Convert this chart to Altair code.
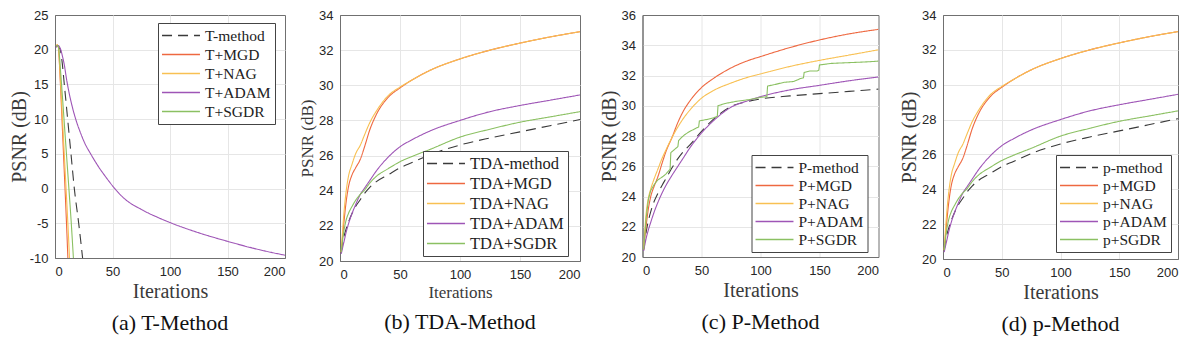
import altair as alt
import pandas as pd

# ---------------- (a) T-Method ----------------
a_method_x = [1, 2, 3, 4.6, 6, 8.1, 11, 13.9, 16.8, 20.6, 24]
a_method_y = [20.5, 20.6, 20.4, 20.0, 18.5, 15.0, 10.0, 5.0, 0.0, -5.0, -10.0]
a_mgd_x = [1, 2, 3, 4, 5, 6, 7, 8, 9, 10, 11.2]
a_mgd_y = [20.5, 20.7, 20.3, 17.5, 14.0, 10.3, 6.5, 2.7, -1.1, -5.0, -10.0]
a_nag_x = [1, 2, 3, 4, 5, 6, 7, 8, 9, 10, 11, 12, 12.6]
a_nag_y = [20.5, 20.7, 20.3, 17.8, 14.8, 11.6, 8.4, 5.2, 2.0, -1.2, -4.4, -7.8, -10.0]
a_adam_x = [1, 2, 3, 4, 5, 6, 7, 8, 10, 12, 15, 18, 22, 26, 31, 38, 44, 51, 60, 75,
            90, 100, 120, 150, 175, 200]
a_adam_y = [20.3, 20.6, 20.6, 20.4, 20.0, 19.4, 18.7, 17.9, 15.8, 14.0, 11.8, 10.0, 8.1,
            6.5, 5.0, 3.1, 1.7, 0.2, -1.4, -3.0, -4.2, -4.9, -6.1, -7.6, -8.7, -9.6]
a_sgdr_x = [1, 2, 3, 4, 5, 6, 7, 8, 10, 12, 14, 16]
a_sgdr_y = [20.5, 20.6, 20.4, 18.8, 16.6, 14.3, 12.0, 9.6, 4.9, 0.2, -4.6, -10.0]
a_names = ["T-method", "T+MGD", "T+NAG", "T+ADAM", "T+SGDR"]

# ---------------- (b) TDA-Method / (d) p-Method ----------------
b_x = [1, 3, 5, 7, 10, 13, 17, 20, 25, 30, 40, 50, 60, 75, 100, 125, 150, 175, 200]
b_method_y = [20.5, 21.3, 21.8, 22.2, 22.7, 23.1, 23.5, 23.8, 24.2, 24.5, 24.9, 25.3, 25.6,
              26.05, 26.6, 27.0, 27.35, 27.7, 28.05]
b_mgd_y = [20.5, 22.0, 23.3, 24.2, 24.9, 25.3, 25.8, 26.4, 27.5, 28.3, 29.3, 29.85, 30.3,
           30.85, 31.5, 32.0, 32.4, 32.75, 33.05]
b_nag_y = [20.5, 22.5, 23.9, 24.8, 25.5, 26.1, 26.6, 27.1, 27.9, 28.5, 29.4, 29.9, 30.3,
           30.85, 31.5, 32.0, 32.4, 32.75, 33.05]
b_adam_y = [20.4, 21.0, 21.6, 22.1, 22.7, 23.2, 23.8, 24.1, 24.6, 25.1, 25.9, 26.5, 26.9,
            27.4, 28.0, 28.5, 28.85, 29.15, 29.45]
b_sgdr_y = [20.5, 21.6, 22.3, 22.7, 23.1, 23.45, 23.8, 24.0, 24.45, 24.8, 25.25, 25.65, 25.95,
            26.35, 27.05, 27.5, 27.9, 28.2, 28.5]
b_names = ["TDA-method", "TDA+MGD", "TDA+NAG", "TDA+ADAM", "TDA+SGDR"]
d_names = ["p-method", "p+MGD", "p+NAG", "p+ADAM", "p+SGDR"]

# ---------------- (c) P-Method ----------------
c_x = [1, 3, 5, 7, 10, 13, 17, 20, 25, 30, 35, 40, 50, 60, 75, 90, 100, 125, 150, 175, 200]
c_method_y = [20.5, 21.6, 22.4, 23.0, 23.7, 24.2, 24.8, 25.2, 25.9, 26.5, 27.0, 27.4, 28.3,
              29.1, 29.95, 30.3, 30.45, 30.65, 30.8, 30.95, 31.1]
c_mgd_y = [20.5, 22.0, 23.2, 24.0, 24.7, 25.3, 26.3, 27.0, 27.9, 28.9, 29.7, 30.3, 31.2,
           31.8, 32.5, 33.0, 33.25, 33.85, 34.35, 34.75, 35.05]
c_nag_y = [20.5, 22.8, 23.9, 24.5, 25.2, 25.8, 26.6, 27.1, 27.9, 28.6, 29.2, 29.7, 30.5,
           31.0, 31.5, 31.9, 32.1, 32.6, 33.0, 33.35, 33.7]
c_adam_y = [20.4, 21.2, 21.8, 22.3, 23.0, 23.6, 24.3, 24.75, 25.4, 26.0, 26.6, 27.2, 28.2,
            29.0, 29.9, 30.35, 30.6, 31.05, 31.35, 31.65, 31.9]
c_sgdr_x = [1, 3, 5, 7, 10, 13, 17, 20, 23.4, 24, 27, 30, 30.6, 33, 36, 40, 45, 47.6, 48.2,
            55, 60, 63.4, 64, 70, 80, 90, 100, 105.4, 106, 112, 120, 128, 134, 136.4, 137,
            142, 148, 149.4, 150, 160, 175, 190, 200]
c_sgdr_y = [20.5, 22.5, 23.8, 24.4, 24.8, 25.1, 25.3, 25.5, 25.8, 26.9, 27.1, 27.3, 27.7,
            27.9, 28.1, 28.3, 28.5, 28.6, 29.0, 29.1, 29.2, 29.3, 30.0, 30.15, 30.3, 30.4,
            30.55, 30.6, 31.3, 31.4, 31.55, 31.6, 31.8, 31.85, 32.2, 32.3, 32.3, 32.35, 32.7,
            32.8, 32.85, 32.9, 32.95]
c_names = ["P-method", "P+MGD", "P+NAG", "P+ADAM", "P+SGDR"]

SERIF = "Liberation Serif"
SANS = "Liberation Sans"
FRAME = "#707070"
COLORS = ["#3a3a3a", "#EE6840", "#F8C052", "#9E55B6", "#8BC062"]
DASHES = [[10, 6], [1, 0], [1, 0], [1, 0], [1, 0]]


def make_df(series):
    rows = []
    for name, xs, ys in series:
        for k, (xv, yv) in enumerate(zip(xs, ys)):
            rows.append({"Series": name, "Iteration": xv, "PSNR": yv, "k": k})
    return pd.DataFrame(rows)


def panel(series, caption, ymin, ymax, ystep, width, height, legx, legy, legfont,
          rowpad, xtitle_size, ytitle_size, ytitle_pad, step_series=None):
    names = [s[0] for s in series]
    df = make_df(series)
    legend = alt.Legend(
        orient="none", legendX=legx, legendY=legy, title=None,
        symbolType="M-1.13,0H3.93", symbolSize=225, symbolStrokeWidth=1.4,
        labelFont=SERIF, labelFontSize=legfont, labelColor="#222222", labelOffset=26,
        labelLimit=400, padding=4, rowPadding=rowpad, strokeColor="#444444",
        fillColor="white",
    )
    x = alt.X("Iteration:Q",
              scale=alt.Scale(domain=[0, 200], nice=False),
              axis=alt.Axis(values=[0, 50, 100, 150, 200], title="Iterations",
                            titleFontSize=xtitle_size, titlePadding=3,
                            gridOpacity={"condition": {"test": "datum.value == 0 || datum.value == 200",
                                                       "value": 0}, "value": 1}))
    y = alt.Y("PSNR:Q",
              scale=alt.Scale(domain=[ymin, ymax], nice=False, zero=False),
              axis=alt.Axis(values=list(range(ymin, ymax + 1, ystep)), title="PSNR (dB)",
                            titleFontSize=ytitle_size,
                            labelExpr="datum.value < 0 ? '-' + (-datum.value) : '' + datum.value",
                            titlePadding=ytitle_pad,
                            gridOpacity={"condition": {"test": "datum.value == %d || datum.value == %d" % (ymin, ymax),
                                                       "value": 0}, "value": 1}))
    color = alt.Color("Series:N", scale=alt.Scale(domain=names, range=COLORS), legend=legend)
    dash = alt.StrokeDash("Series:N", scale=alt.Scale(domain=names, range=DASHES), legend=legend)
    base = alt.Chart(df).encode(x=x, y=y, color=color, strokeDash=dash, order="k:Q")
    if step_series:
        smooth = base.transform_filter(alt.datum.Series != step_series).mark_line(
            interpolate="monotone", strokeWidth=1.1, clip=True)
        steps = base.transform_filter(alt.datum.Series == step_series).mark_line(
            interpolate="linear", strokeWidth=1.1, clip=True)
        ch = alt.layer(smooth, steps)
    else:
        ch = alt.layer(base.mark_line(interpolate="monotone", strokeWidth=1.1, clip=True))
    return ch.properties(
        width=width, height=height,
        title=alt.TitleParams(caption, orient="bottom", font=SERIF, fontSize=22,
                              fontWeight="normal", color="#111111", offset=12),
    )


pa = panel([(a_names[0], a_method_x, a_method_y), (a_names[1], a_mgd_x, a_mgd_y),
            (a_names[2], a_nag_x, a_nag_y), (a_names[3], a_adam_x, a_adam_y),
            (a_names[4], a_sgdr_x, a_sgdr_y)],
           "(a) T-Method", -10, 25, 5, 230, 243, 103, 8, 15.5, 2, 20, 20, 0)
pb = panel([(b_names[0], b_x, b_method_y), (b_names[1], b_x, b_mgd_y),
            (b_names[2], b_x, b_nag_y), (b_names[3], b_x, b_adam_y),
            (b_names[4], b_x, b_sgdr_y)],
           "(b) TDA-Method", 20, 34, 2, 240, 246, 83, 136, 16.5, 3, 17, 17, 2)
pc = panel([(c_names[0], c_x, c_method_y), (c_names[1], c_x, c_mgd_y),
            (c_names[2], c_x, c_nag_y), (c_names[3], c_x, c_adam_y),
            (c_names[4], c_sgdr_x, c_sgdr_y)],
           "(c) P-Method", 20, 36, 2, 236, 242, 109, 140, 15.5, 1, 20, 20, 2,
           step_series="P+SGDR")
pd_ = panel([(d_names[0], b_x, b_method_y), (d_names[1], b_x, b_mgd_y),
             (d_names[2], b_x, b_nag_y), (d_names[3], b_x, b_adam_y),
             (d_names[4], b_x, b_sgdr_y)],
            "(d) p-Method", 20, 34, 2, 235, 244, 113, 140, 15.5, 1, 20, 20, 2)

left = alt.hconcat(pa, pb, spacing=12).resolve_scale(
    color="independent", strokeDash="independent")
right = alt.hconcat(pc, pd_, spacing=19.5).resolve_scale(
    color="independent", strokeDash="independent")
chart = alt.hconcat(left, right, spacing=17.5).resolve_scale(
    color="independent", strokeDash="independent"
).properties(
    padding={"left": 0, "top": 0, "right": 0, "bottom": 0}
).configure(
    font=SERIF
).configure_view(
    stroke=FRAME, strokeWidth=1
).configure_axis(
    labelFont=SANS, labelFontSize=13, labelColor="#262626", labelPadding=7,
    titleFont=SERIF, titleFontWeight="normal", titleColor="#3a3a3a",
    grid=True, gridColor="#e6e6e6", gridWidth=1, ticks=False, tickSize=0,
    domain=True, domainColor=FRAME, domainWidth=1,
)
chart.save("out.html", embed_options={"renderer": "svg", "actions": False})
